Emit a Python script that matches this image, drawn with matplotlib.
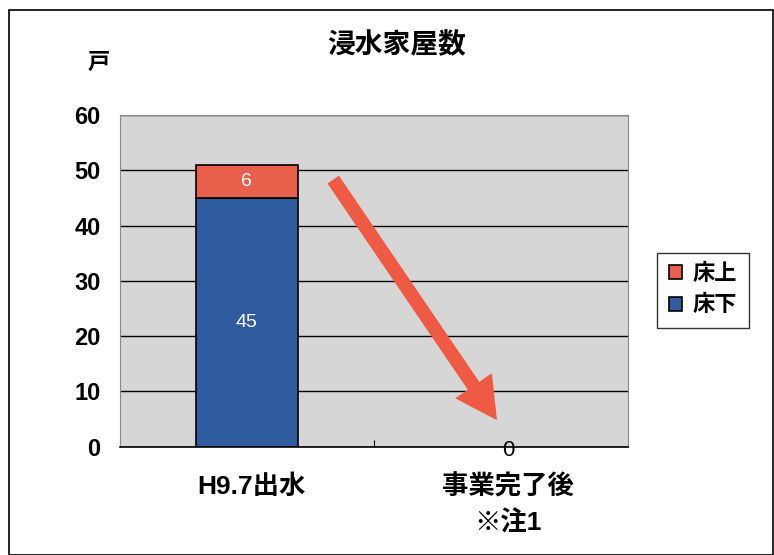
import matplotlib.pyplot as plt
from matplotlib.patches import Rectangle

fonts = ['Liberation Sans', 'Noto Sans CJK JP', 'DejaVu Sans']
plt.rcParams['font.family'] = fonts

categories = ["H9.7出水", "事業完了後\n※注1"]
yukashita = [45, 0]   # 床下
yukaue = [6, 0]       # 床上
totals = [a + b for a, b in zip(yukashita, yukaue)]

red = "#e8604c"
blue = "#2e5c9e"

fig = plt.figure(figsize=(7.74, 5.55), dpi=100)
ax = fig.add_axes([0.155, 0.195, 0.656, 0.598])
ax.set_facecolor("#d6d6d6")

x = [0, 1]
ax.bar(x[:1], yukashita[:1], width=0.4, color=blue, edgecolor="black", linewidth=1.2, label="床下", zorder=3)
ax.bar(x[:1], yukaue[:1], bottom=yukashita[:1], width=0.4, color=red, edgecolor="black", linewidth=1.2,
       label="床上", zorder=3)

ax.text(0, yukashita[0] + yukaue[0] / 2, str(yukaue[0]), color="white", ha="center", va="center", fontsize=14, zorder=4)
ax.text(0, yukashita[0] / 2, str(yukashita[0]), color="white", ha="center", va="center", fontsize=14, zorder=4)
ax.text(1.03, -0.6, str(totals[1]), color="black", ha="center", va="center", fontsize=16, zorder=4, clip_on=False)

# arrow showing the reduction
ax.annotate("", xy=(0.985, 4.8), xytext=(0.34, 48.3),
            arrowprops=dict(width=10, headwidth=32, headlength=30, color="#ee5a44", lw=0), zorder=5)

ax.set_xlim(-0.5, 1.5)
ax.set_ylim(0, 60)
ax.set_yticks(range(0, 61, 10))
ax.yaxis.grid(True, color="black", linewidth=1.0, zorder=1)
ax.set_axisbelow(True)
ax.set_xticks([0.5])
ax.set_xticklabels([""])
ax.tick_params(axis="x", direction="in", length=5, color="black")
ax.tick_params(axis="y", length=0, labelsize=17, pad=14)
for lbl in ax.get_yticklabels():
    lbl.set_fontweight("bold")
for s in ["top", "right", "left"]:
    ax.spines[s].set_color("#888888")
ax.spines["bottom"].set_color("black")
ax.spines["bottom"].set_linewidth(1.2)

# category labels, one text per line, top lines level with each other
label_x = [0.016, 1.027]
line_y = [-7.2, -13.7]
for cx, cat in zip(label_x, categories):
    for ly, line in zip(line_y, cat.split("\n")):
        ax.text(cx, ly, line, ha="center", va="center", fontsize=19, fontweight="bold", clip_on=False)

fig.text(0.512, 0.918, "浸水家屋数", ha="center", va="center", fontsize=20, fontweight="bold")
fig.text(0.127, 0.886, "戸", ha="center", va="center", fontsize=16, fontweight="bold")

handles, labels = ax.get_legend_handles_labels()
leg = fig.legend(handles[::-1], labels[::-1], loc="center left", bbox_to_anchor=(0.835, 0.477),
                 prop={"family": fonts, "size": 16, "weight": "bold"}, frameon=True, fancybox=False,
                 edgecolor="black", handlelength=0.6, handleheight=0.6, handletextpad=0.5,
                 borderpad=0.5, labelspacing=0.45)

fig.patches.append(Rectangle((0.011, 0.0), 0.988, 0.982, transform=fig.transFigure,
                             fill=False, edgecolor="black", linewidth=1.2))

fig.savefig("out.png", dpi=100)
